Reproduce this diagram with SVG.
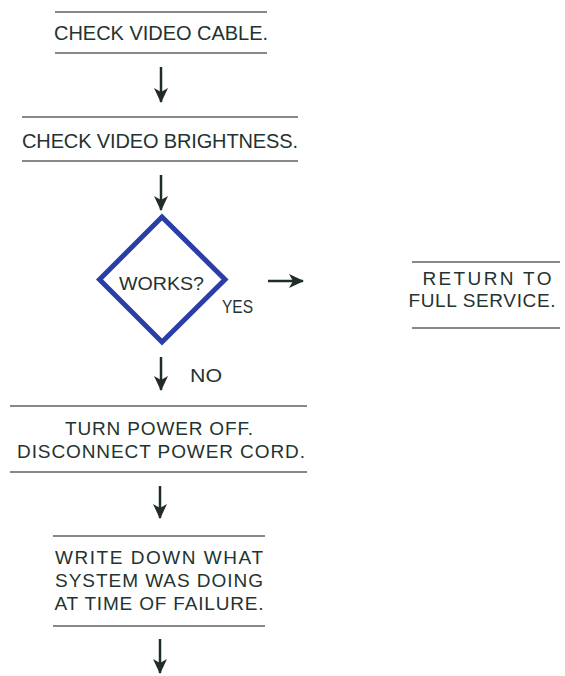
<svg xmlns="http://www.w3.org/2000/svg" width="565" height="676" viewBox="0 0 565 676">
<defs>
<marker id="ah" markerUnits="userSpaceOnUse" markerWidth="16" markerHeight="16" viewBox="0 0 16 16" refX="14" refY="8" orient="auto">
<path d="M0,1 L15,8 L0,15 L4,8 Z" fill="#1f2c29"/>
</marker>
<style>
text{font-family:"Liberation Sans",Arial,sans-serif;font-size:19px;fill:#23332f;}
.big{font-size:20px;}
.c{text-anchor:middle;}
.rule{stroke:#5d625f;stroke-width:1.5;}
.arr{stroke:#1f2c29;stroke-width:2.5;fill:none;marker-end:url(#ah);}
</style>
</defs>
<rect width="565" height="676" fill="#ffffff"/>
<g id="connectors">
<line class="arr" x1="161" y1="67" x2="161" y2="102"/>
<line class="arr" x1="161" y1="175" x2="161" y2="210"/>
<line class="arr" x1="268" y1="281" x2="303" y2="281"/>
<line class="arr" x1="161" y1="357" x2="161" y2="390"/>
<line class="arr" x1="160" y1="486" x2="160" y2="518"/>
<line class="arr" x1="160" y1="639" x2="160" y2="673"/>
<text x="190" y="382" textLength="32" lengthAdjust="spacingAndGlyphs">NO</text>
<text x="222" y="313" textLength="31" lengthAdjust="spacingAndGlyphs">YES</text>
</g>
<g id="check-cable">
<line class="rule" x1="55" y1="12" x2="267" y2="12"/>
<text class="c big" x="161" y="40" textLength="214" lengthAdjust="spacing">CHECK VIDEO CABLE.</text>
<line class="rule" x1="55" y1="53" x2="267" y2="53"/>
</g>
<g id="check-brightness">
<line class="rule" x1="22" y1="117" x2="298" y2="117"/>
<text class="c big" x="160" y="148" textLength="276" lengthAdjust="spacing">CHECK VIDEO BRIGHTNESS.</text>
<line class="rule" x1="22" y1="161" x2="298" y2="161"/>
</g>
<g id="works">
<polygon points="162,217 225,279.5 162,342 99.5,279.5" fill="none" stroke="#2a3ea6" stroke-width="5" stroke-linejoin="miter"/>
<text x="119" y="290" textLength="85" lengthAdjust="spacingAndGlyphs">WORKS?</text>
</g>
<g id="return-service">
<line class="rule" x1="412" y1="262" x2="560" y2="262"/>
<text class="c" x="487" y="285" textLength="129" lengthAdjust="spacing">RETURN TO</text>
<text class="c" x="482" y="307" textLength="147" lengthAdjust="spacing">FULL SERVICE.</text>
<line class="rule" x1="412" y1="328" x2="560" y2="328"/>
</g>
<g id="power-off">
<line class="rule" x1="10" y1="406" x2="307" y2="406"/>
<text class="c" x="159" y="435" textLength="188" lengthAdjust="spacing">TURN POWER OFF.</text>
<text class="c" x="161" y="458" textLength="288" lengthAdjust="spacing">DISCONNECT POWER CORD.</text>
<line class="rule" x1="10" y1="472" x2="307" y2="472"/>
</g>
<g id="write-down">
<line class="rule" x1="53" y1="536" x2="265" y2="536"/>
<text class="c" x="159" y="564" textLength="208" lengthAdjust="spacing">WRITE DOWN WHAT</text>
<text class="c" x="159" y="587" textLength="208" lengthAdjust="spacing">SYSTEM WAS DOING</text>
<text class="c" x="159" y="610" textLength="209" lengthAdjust="spacing">AT TIME OF FAILURE.</text>
<line class="rule" x1="53" y1="626" x2="265" y2="626"/>
</g>
</svg>
